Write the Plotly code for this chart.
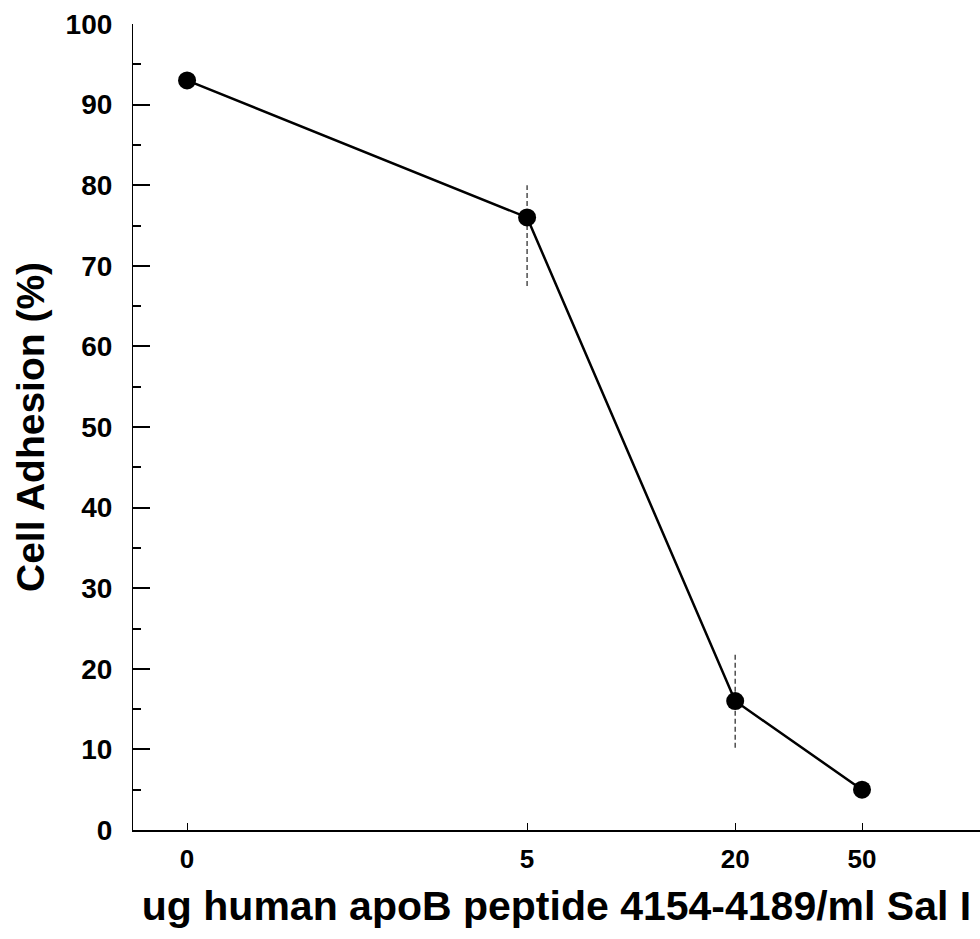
import plotly.graph_objects as go

# Data
concentration_labels = ["0", "5", "20", "50"]
axis_positions = [0.0, 1.0, 1.612, 1.985]   # non-uniform spacing of the original axis
cell_adhesion = [93, 76, 16, 5]
err_plus = [0, 4, 5.8, 0]
err_minus = [0, 8.5, 5.8, 0]

FONT = "Liberation Sans, Arial, Helvetica, sans-serif"

fig = go.Figure()

# error bars (dashed, as in the scan)
ex, ey = [], []
for p, v, ep, em in zip(axis_positions, cell_adhesion, err_plus, err_minus):
    if ep or em:
        ex += [p, p, None]
        ey += [v - em, v + ep, None]
fig.add_trace(go.Scatter(x=ex, y=ey, mode="lines",
                         line=dict(color="#333333", width=1.3, dash="5px,3px"),
                         hoverinfo="skip", showlegend=False))

fig.add_trace(go.Scatter(
    x=axis_positions, y=cell_adhesion, mode="lines+markers",
    line=dict(color="black", width=2.5),
    marker=dict(color="black", size=18),
    cliponaxis=False, showlegend=False))

fig.update_layout(
    width=980, height=939,
    margin=dict(l=133, r=0, t=24, b=109),
    paper_bgcolor="white", plot_bgcolor="white",
    font=dict(family=FONT, color="black"),
)

fig.update_xaxes(
    range=[-0.159, 2.332],
    tickmode="array", tickvals=axis_positions, ticktext=concentration_labels,
    ticks="inside", ticklen=7, tickwidth=1, tickcolor="black",
    showline=True, linecolor="black", linewidth=1.5,
    showgrid=False, zeroline=False,
    tickfont=dict(size=26, weight="bold", family=FONT),
    ticklabelstandoff=5,
    title=dict(text="ug human apoB peptide 4154-4189/ml Sal I",
               font=dict(size=41, weight="bold", family=FONT), standoff=18),
)

fig.update_yaxes(
    range=[0, 100], dtick=10,
    ticks="inside", ticklen=17, tickwidth=1.5, tickcolor="black",
    minor=dict(dtick=5, ticks="inside", ticklen=8, tickwidth=1.5, tickcolor="black"),
    showline=True, linecolor="black", linewidth=1.2,
    showgrid=False, zeroline=False,
    tickfont=dict(size=28, weight="bold", family=FONT),
    ticklabelstandoff=14,
    title=dict(text="Cell Adhesion (%)",
               font=dict(size=39, weight="bold", family=FONT), standoff=8),
)

fig.write_html("out.html")
